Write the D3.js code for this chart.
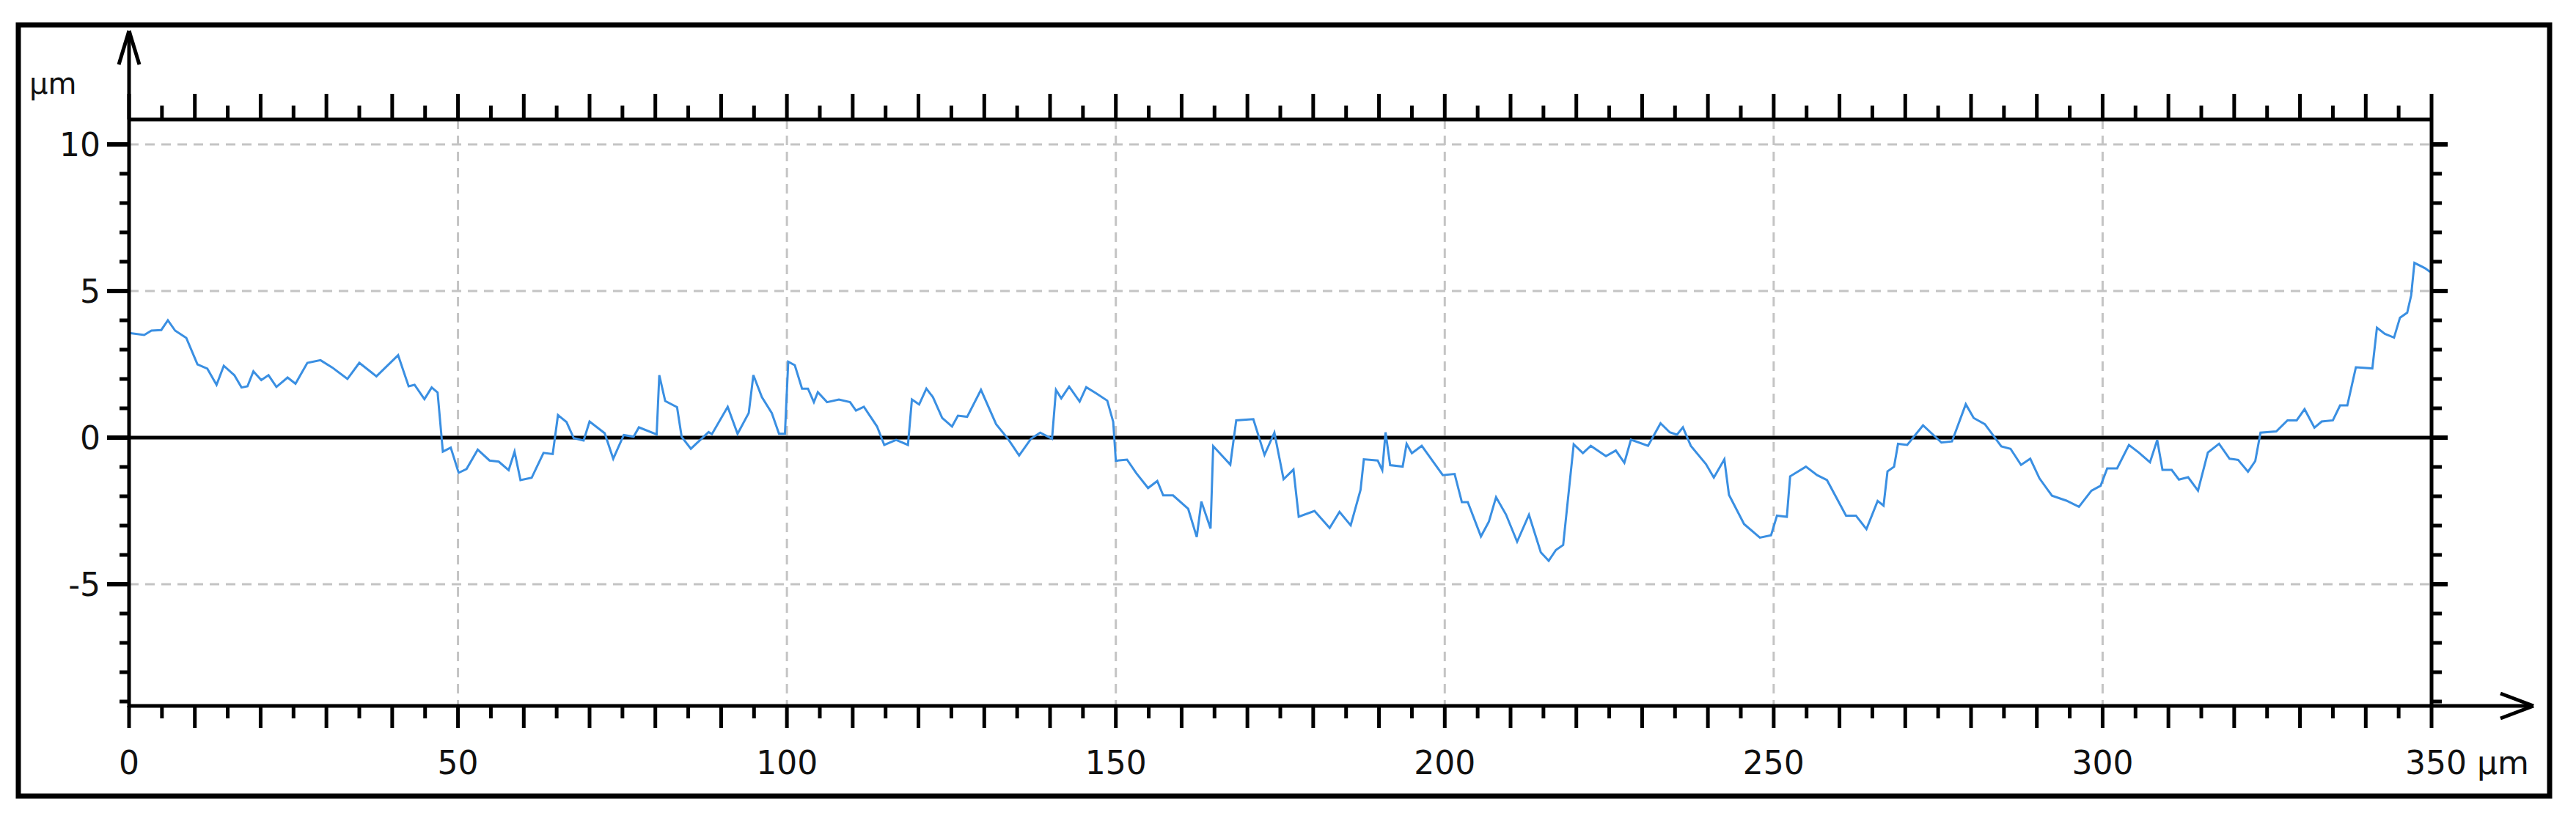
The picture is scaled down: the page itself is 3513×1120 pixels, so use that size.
<!DOCTYPE html>
<html><head><meta charset="utf-8">
<script src="https://cdn.jsdelivr.net/npm/d3@7"></script>
<style>body{margin:0;background:#fff}svg{display:block}text{font-family:"DejaVu Sans",Verdana,sans-serif;fill:#111}</style>
</head><body>
<svg id="c" width="3513" height="1120"></svg>
<script>
const xTickLabels = [0,50,100,150,200,250,300,350];
const yTickLabels = [10,5,0,-5];
const xUnit = "µm", yUnit = "µm";
const profileX = [0,2.3,3.4,4.9,5.9,7,8.7,10.4,11.9,13.3,14.4,16,17.1,18,18.9,20.1,21.2,22.4,24.1,25.3,27.1,29.1,30.9,33.2,35,37.6,40.9,42.5,43.4,44.9,46,46.9,47.7,48.9,50.1,51.3,53,54.8,56.2,57.7,58.6,59.5,61.2,63,64.4,65.2,66.5,67.6,69.1,70,72.3,73.6,75.2,76.7,77.5,80.2,80.6,81.5,83.3,84,85.4,88.1,88.6,91,92.5,94.2,94.9,96.2,97.7,98.8,99.7,100.2,101.2,102.3,103.2,104.1,104.7,106.1,107.9,109.6,110.5,111.7,113.7,114.8,116.6,118.4,119,120.1,121.2,122.2,123.6,125.1,126,127.4,129.5,131.8,133.6,135.3,137.1,138.5,140.3,140.9,141.7,142.9,144.5,145.5,147,148.7,149.6,150,151.7,153.1,154.9,156.3,157.2,158.7,161,162.3,163,164.4,164.8,167.4,168.3,170.9,172.6,174.1,175.5,177,177.8,180.2,182.5,184,185.7,187.2,187.7,189.8,190.5,191,191.7,193.6,194.2,195,196.5,199.7,201.5,202.6,203.5,205.5,206.7,207.8,209.3,211,212.8,214.6,215.8,216.9,218,219.6,221,222.2,224.5,226,227.3,228.3,230.9,232.8,234.2,235.3,236.2,237.4,239.7,240.9,242.5,243.2,245.5,247.9,249.6,250.5,252,252.5,254.9,256.6,258.1,261,262.5,264.1,265.8,266.7,267.3,268.3,268.9,270.3,272.7,275.5,277.1,279.2,280.4,282.1,284.6,286,287.6,289,290.4,292.3,294.5,296.4,298.3,299.7,300.7,302.2,304,305.5,307.2,308.3,309.1,310.5,311.6,313,314.5,316,317.7,319.3,320.6,322.1,323.2,324,326.4,328.1,329.5,330.7,332.2,333.3,335,336.1,337.2,338.5,341,341.7,342.9,344.3,345.2,346.3,346.9,347.4,349,349.8];
const profileY = [3.57,3.5,3.65,3.67,4.0,3.65,3.4,2.5,2.35,1.8,2.45,2.13,1.71,1.75,2.26,1.96,2.13,1.73,2.05,1.84,2.55,2.64,2.39,2.0,2.55,2.09,2.81,1.75,1.8,1.31,1.71,1.54,-0.48,-0.34,-1.2,-1.07,-0.41,-0.78,-0.82,-1.11,-0.48,-1.45,-1.37,-0.52,-0.56,0.77,0.53,-0.02,-0.1,0.55,0.15,-0.72,0.09,0.03,0.35,0.11,2.13,1.25,1.04,0.03,-0.38,0.19,0.12,1.05,0.13,0.84,2.13,1.38,0.84,0.13,0.13,2.59,2.47,1.67,1.67,1.21,1.55,1.21,1.3,1.21,0.92,1.05,0.38,-0.25,-0.08,-0.25,1.3,1.13,1.67,1.38,0.67,0.38,0.75,0.71,1.63,0.46,-0.04,-0.61,-0.04,0.17,-0.04,1.63,1.34,1.74,1.23,1.72,1.51,1.26,0.54,-0.79,-0.75,-1.21,-1.72,-1.48,-1.97,-1.97,-2.43,-3.39,-2.18,-3.1,-0.29,-0.92,0.59,0.63,-0.59,0.17,-1.42,-1.09,-2.7,-2.5,-3.08,-2.53,-2.99,-1.78,-0.74,-0.78,-1.11,0.18,-0.94,-0.99,-0.21,-0.53,-0.28,-1.28,-1.24,-2.2,-2.2,-3.37,-2.87,-2.03,-2.62,-3.55,-2.63,-3.91,-4.2,-3.83,-3.66,-0.23,-0.53,-0.28,-0.63,-0.44,-0.86,-0.07,-0.28,0.49,0.18,0.1,0.35,-0.28,-0.9,-1.36,-0.74,-1.95,-2.95,-3.41,-3.33,-2.66,-2.7,-1.32,-0.99,-1.28,-1.45,-2.66,-2.66,-3.12,-2.16,-2.32,-1.15,-0.99,-0.21,-0.25,0.42,-0.17,-0.13,1.14,0.67,0.46,-0.3,-0.38,-0.93,-0.72,-1.39,-1.98,-2.15,-2.36,-1.81,-1.64,-1.05,-1.05,-0.25,-0.51,-0.84,-0.08,-1.1,-1.1,-1.43,-1.35,-1.81,-0.51,-0.21,-0.72,-0.76,-1.16,-0.8,0.17,0.21,0.59,0.59,0.97,0.34,0.55,0.59,1.1,1.1,2.4,2.36,3.75,3.54,3.41,4.09,4.26,4.85,5.96,5.78,5.65];

const svg = d3.select("#c");
const x = d3.scaleLinear().domain([0,350]).range([176,3316]);
const y = d3.scaleLinear().domain([-9.15,10.85]).range([963,163]);
const yTop = y(10.85), yBot = y(-9.15), xL = x(0), xR = x(350);

svg.append("rect").attr("x",25).attr("y",34).attr("width",3452).attr("height",1052)
  .attr("fill","none").attr("stroke","#000").attr("stroke-width",7);

const g = svg.append("g").attr("stroke","#c4c4c4").attr("stroke-width",3).attr("stroke-dasharray","13,9");
[50,100,150,200,250,300].forEach(v=>g.append("line").attr("x1",x(v)).attr("x2",x(v)).attr("y1",yTop).attr("y2",yBot));
[10,5,-5].forEach(v=>g.append("line").attr("x1",xL).attr("x2",xR).attr("y1",y(v)).attr("y2",y(v)));

svg.append("line").attr("x1",xL).attr("x2",xR).attr("y1",y(0)).attr("y2",y(0)).attr("stroke","#000").attr("stroke-width",5);

svg.append("path").datum(profileX.map((d,i)=>[d,profileY[i]]))
  .attr("d",d3.line().x(d=>x(d[0])).y(d=>y(d[1])))
  .attr("fill","none").attr("stroke","#3a8fe2").attr("stroke-width",3);

const xTicks = d3.range(0,351,5), yTicks = d3.range(-9,11,1);
const ax = svg.append("g").attr("stroke","#000");
function tickLine(x1,y1,x2,y2,w){ax.append("line").attr("x1",x1).attr("y1",y1).attr("x2",x2).attr("y2",y2).attr("stroke-width",w);}
xTicks.forEach(v=>{
  const maj = v%10===0;
  tickLine(x(v),yBot,x(v),yBot+(maj?30:17),5);
  tickLine(x(v),yTop,x(v),yTop-(maj?35:19),5);
});
yTicks.forEach(v=>{
  const maj = v%5===0;
  tickLine(xL,y(v),xL-(maj?30:13),y(v),maj?6:5);
  tickLine(xR,y(v),xR+(maj?22:14),y(v),maj?6:5);
});
tickLine(xL,yTop,xR,yTop,5);
tickLine(xR,yTop,xR,yBot,5);
tickLine(xL,yBot+2,xL,42,5);
tickLine(xL-14,88,xL,42,5); tickLine(xL+14,88,xL,42,5);
tickLine(xL-2,yBot,3455,yBot,5);
tickLine(3410,yBot-17,3455,yBot,5); tickLine(3410,yBot+17,3455,yBot,5);

xTickLabels.forEach(v=>{
  if(v===350){
    svg.append("text").attr("x",x(v)-36).attr("y",1056).attr("font-size",44).text(v+" "+xUnit);
  } else {
    svg.append("text").attr("x",x(v)).attr("y",1056).attr("text-anchor","middle").attr("font-size",44).text(v);
  }
});
yTickLabels.forEach(v=>{
  svg.append("text").attr("x",137).attr("y",y(v)+16).attr("text-anchor","end").attr("font-size",44).text(v);
});
svg.append("text").attr("x",40).attr("y",128).attr("font-size",40).text(yUnit);
</script>
</body></html>
